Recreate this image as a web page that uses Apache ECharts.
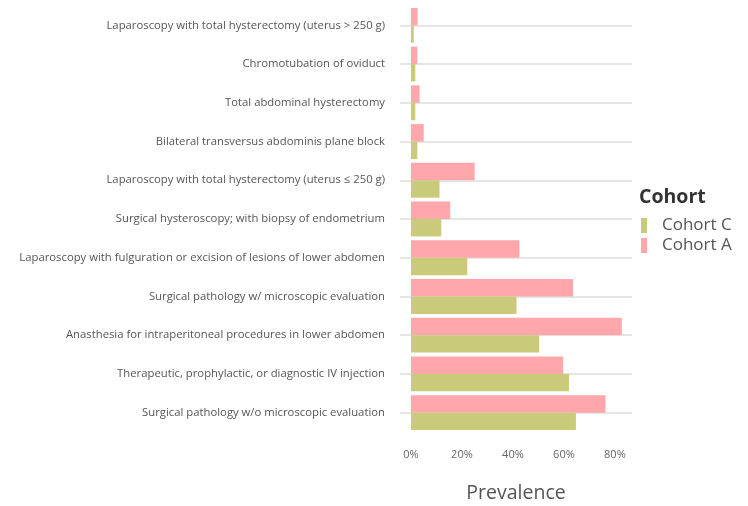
<!DOCTYPE html>
<html>
<head>
<meta charset="utf-8">
<title>Procedure prevalence by cohort</title>
<script src="https://cdn.jsdelivr.net/npm/echarts@6/dist/echarts.min.js"></script>
<style>
  html, body { margin: 0; padding: 0; background: #ffffff; }
  #chart { width: 748px; height: 506px; }
</style>
</head>
<body>
<div id="chart"></div>
<script>
// Procedures, listed top to bottom as they appear on the chart
const procedures = [
  'Laparoscopy with total hysterectomy (uterus > 250 g)',
  'Chromotubation of oviduct',
  'Total abdominal hysterectomy',
  'Bilateral transversus abdominis plane block',
  'Laparoscopy with total hysterectomy (uterus \u2264 250 g)',
  'Surgical hysteroscopy; with biopsy of endometrium',
  'Laparoscopy with fulguration or excision of lesions of lower abdomen',
  'Surgical pathology w/ microscopic evaluation',
  'Anasthesia for intraperitoneal procedures in lower abdomen',
  'Therapeutic, prophylactic, or diagnostic IV injection',
  'Surgical pathology w/o microscopic evaluation'
];

// Prevalence (%) per procedure, same order as above
const cohortA = [2.6, 2.5, 3.4, 5.0, 25.0, 15.4, 42.5, 63.6, 82.7, 59.7, 76.3];
const cohortC = [1.1, 1.7, 1.7, 2.5, 11.2, 11.9, 22.1, 41.4, 50.3, 62.0, 64.7];

// Tick positions on the prevalence axis (%)
const prevalenceTicks = [0, 20, 40, 60, 80];

const legendOrder = ['Cohort C', 'Cohort A'];
const colors = { 'Cohort C': '#C9CB7A', 'Cohort A': '#FFA7AA' };

// The category axis runs bottom-up, so feed it reversed lists
const cats = procedures.slice().reverse();
const valsC = cohortC.slice().reverse();
const valsA = cohortA.slice().reverse();

const labelFont = '"Open Sans", Lato, sans-serif';

const chart = echarts.init(document.getElementById('chart'), null, { renderer: 'canvas' });

chart.setOption({
  backgroundColor: '#ffffff',
  animation: false,
  textStyle: { fontFamily: labelFont },
  title: {
    text: 'Cohort',
    left: 639,
    top: 187,
    padding: 0,
    textStyle: { fontFamily: labelFont, fontSize: 19.5, fontWeight: 'bold', color: '#333333' }
  },
  legend: {
    data: legendOrder,
    orient: 'vertical',
    left: 641,
    top: 217,
    padding: 0,
    icon: 'rect',
    itemWidth: 6,
    itemHeight: 15,
    itemGap: 3,
    textStyle: { fontFamily: labelFont, fontSize: 17, color: '#555555', padding: [0, 0, 0, 10] }
  },
  grid: { left: 400, right: 116, top: 6, bottom: 74, containLabel: false, outerBoundsMode: 'none' },
  xAxis: {
    type: 'value',
    min: -4.3,
    max: 86.7,
    name: 'Prevalence',
    nameLocation: 'middle',
    nameGap: 51,
    nameTextStyle: { fontFamily: labelFont, fontSize: 19.5, color: '#555555' },
    axisLine: { show: false },
    axisTick: { show: false },
    splitLine: { show: false },
    axisLabel: {
      customValues: prevalenceTicks,
      formatter: v => v + '%',
      margin: 17,
      fontSize: 11,
      color: '#666666'
    }
  },
  yAxis: {
    type: 'category',
    data: cats,
    axisLine: { show: false },
    axisTick: { show: false },
    axisLabel: { margin: 15, fontSize: 11.3, color: '#555555' },
    splitLine: { show: true, alignWithLabel: true, lineStyle: { color: '#dedede', width: 1.5 } }
  },
  series: [
    {
      // first series sits on the upper half of each band
      name: 'Cohort A',
      type: 'bar',
      data: valsA,
      itemStyle: { color: colors['Cohort A'] },
      barGap: '0%',
      barCategoryGap: '10%'
    },
    {
      name: 'Cohort C',
      type: 'bar',
      data: valsC,
      itemStyle: { color: colors['Cohort C'] },
      barGap: '0%',
      barCategoryGap: '10%'
    }
  ]
});
</script>
</body>
</html>
